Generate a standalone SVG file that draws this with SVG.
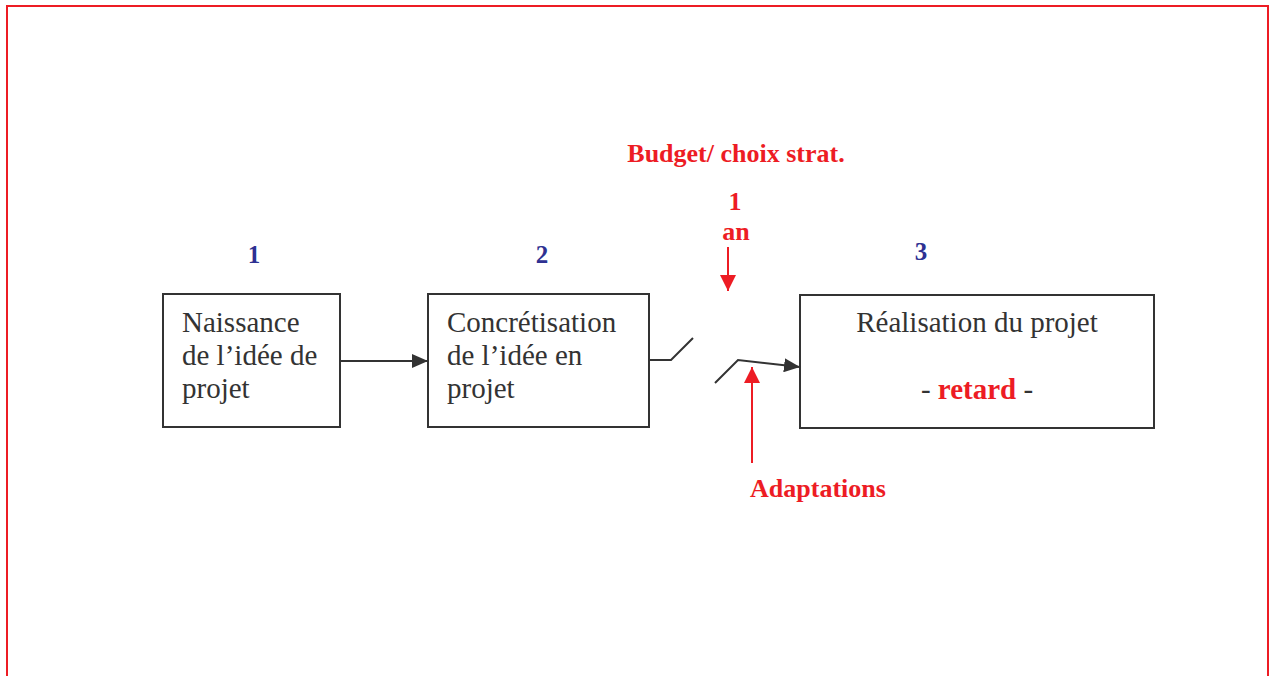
<svg xmlns="http://www.w3.org/2000/svg" width="1271" height="676" viewBox="0 0 1271 676">
<defs>
<style>
.box{fill:#fff;stroke:#333;stroke-width:2}
.t{font-family:"Liberation Serif",serif;font-size:29px;fill:#333}
.red{font-family:"Liberation Serif",serif;font-size:26px;font-weight:bold;fill:#ed1c24}
.blue{font-family:"Liberation Serif",serif;font-size:25px;font-weight:bold;fill:#2e3192}
.conn{fill:none;stroke:#333;stroke-width:2}
.rconn{fill:none;stroke:#ed1c24;stroke-width:2}
</style>
<marker id="ah" markerWidth="10" markerHeight="10" refX="10" refY="5" orient="auto" markerUnits="userSpaceOnUse" viewBox="0 0 10 10">
<path d="M0,0 L10,5 L0,10 z" fill="#333"/>
</marker>
<marker id="ahb" markerWidth="16" markerHeight="14" refX="16" refY="7" orient="auto" markerUnits="userSpaceOnUse" viewBox="0 0 16 14">
<path d="M0,0 L16,7 L0,14 z" fill="#333"/>
</marker>
<marker id="rah" markerWidth="16" markerHeight="16" refX="16" refY="8" orient="auto" markerUnits="userSpaceOnUse" viewBox="0 0 16 16">
<path d="M0,0 L16,8 L0,16 z" fill="#ed1c24"/>
</marker>
</defs>
<rect x="7" y="6" width="1261" height="700" fill="#fff" stroke="#ed1c24" stroke-width="2"/>

<text class="red" x="736" y="162" text-anchor="middle">Budget/ choix strat.</text>
<text class="red" x="735" y="210" text-anchor="middle">1</text>
<text class="red" x="736" y="240" text-anchor="middle">an</text>
<text class="blue" x="254" y="263" text-anchor="middle">1</text>
<text class="blue" x="542" y="263" text-anchor="middle">2</text>
<text class="blue" x="921" y="260" text-anchor="middle">3</text>
<text class="red" x="818" y="497" text-anchor="middle">Adaptations</text>

<g id="node1">
<rect class="box" x="163" y="294" width="177" height="133"/>
<text class="t" x="182" y="332">Naissance</text>
<text class="t" x="182" y="365">de l’idée de</text>
<text class="t" x="182" y="398">projet</text>
</g>
<g id="node2">
<rect class="box" x="428" y="294" width="221" height="133"/>
<text class="t" x="447" y="332">Concrétisation</text>
<text class="t" x="447" y="365">de l’idée en</text>
<text class="t" x="447" y="398">projet</text>
</g>
<g id="node3">
<rect class="box" x="800" y="295" width="354" height="133"/>
<text class="t" x="977" y="332" text-anchor="middle">Réalisation du projet</text>
<text class="t" x="977" y="399" text-anchor="middle">- <tspan font-weight="bold" fill="#ed1c24">retard</tspan> -</text>
</g>

<g id="connectors">
<line class="conn" x1="340" y1="361" x2="428" y2="361" marker-end="url(#ahb)"/>
<polyline class="conn" points="649,360 671,360 693,338"/>
<polyline class="conn" points="715,383 738,360 800,367" marker-end="url(#ahb)"/>
<line class="rconn" x1="728" y1="247" x2="728" y2="291" marker-end="url(#rah)"/>
<line class="rconn" x1="752" y1="463" x2="752" y2="367" marker-end="url(#rah)"/>
</g>
</svg>
